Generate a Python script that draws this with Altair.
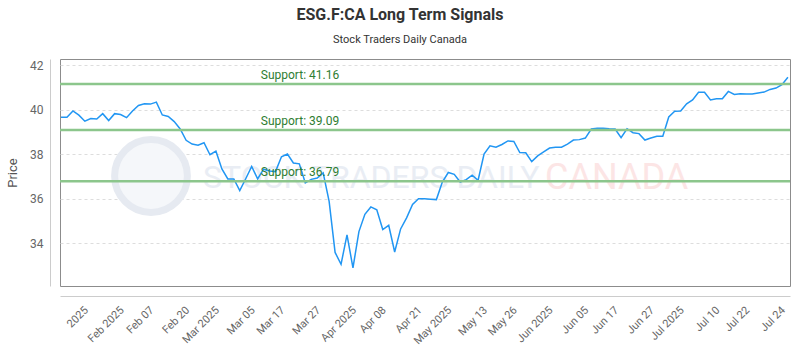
import json
import altair as alt
import pandas as pd

# ---- data ----
prices = [
    39.67, 39.67, 39.95, 39.76, 39.49, 39.61, 39.59, 39.83, 39.52, 39.83,
    39.79, 39.65, 39.95, 40.20, 40.27, 40.26, 40.35, 39.77, 39.70, 39.47,
    39.14, 38.63, 38.46, 38.41, 38.52, 37.98, 38.14, 37.34, 36.89, 36.89,
    36.37, 36.90, 37.45, 36.89, 37.33, 37.25, 37.22, 37.89, 38.01, 37.61,
    37.57, 36.71, 36.87, 36.93, 37.16, 35.88, 33.58, 33.05, 34.37, 32.89,
    34.52, 35.30, 35.63, 35.50, 34.61, 34.80, 33.60, 34.64, 35.14, 35.74,
    36.00, 36.00, 35.98, 35.96, 36.75, 37.18, 37.10, 36.75, 36.86, 37.06,
    36.83, 38.01, 38.38, 38.32, 38.44, 38.60, 38.58, 38.08, 38.07, 37.67,
    37.93, 38.11, 38.28, 38.32, 38.32, 38.46, 38.64, 38.66, 38.73, 39.14,
    39.17, 39.17, 39.15, 39.14, 38.75, 39.15, 38.97, 38.93, 38.64, 38.73,
    38.81, 38.81, 39.68, 39.94, 39.95, 40.27, 40.45, 40.79, 40.79, 40.45,
    40.50, 40.50, 40.83, 40.69, 40.73, 40.71, 40.71, 40.76, 40.80, 40.92,
    40.98, 41.13, 41.47,
]
tick_labels = [
    "2025", "Feb 2025", "Feb 07", "Feb 20", "Mar 2025", "Mar 05", "Mar 17",
    "Mar 27", "Apr 2025", "Apr 08", "Apr 21", "May 2025", "May 13", "May 26",
    "Jun 2025", "Jun 05", "Jun 17", "Jun 27", "Jul 2025", "Jul 10", "Jul 22",
    "Jul 24",
]
support_levels = [41.16, 39.09, 36.79]
title_text = "ESG.F:CA Long Term Signals"
subtitle_text = "Stock Traders Daily Canada"

# ---- layout ----
W, H = 730, 227
n = len(prices)
df = pd.DataFrame({"i": list(range(n)), "price": prices})
sup = pd.DataFrame({"level": support_levels,
                    "label": [f"Support: {v:.2f}" for v in support_levels]})

step = (n - 6) / (len(tick_labels) - 1)
tick_pos = [int(round(3 + k * step)) for k in range(len(tick_labels))]
label_expr = f"{json.dumps(tick_labels)}[indexof({json.dumps(tick_pos)}, datum.value)]"

FONT = "Roboto"

xscale = alt.Scale(domain=[-0.17, n - 0.65], nice=False, zero=False)
yscale = alt.Scale(domain=[32.07, 42.29], nice=False, zero=False)

x_enc = alt.X("i:Q", scale=xscale, axis=alt.Axis(
    values=tick_pos, labelExpr=label_expr, labelAngle=-45, grid=False,
    ticks=False, tickSize=0, domainColor="#cccccc", offset=10, title=None,
    labelColor="#666666", labelFontSize=11, labelFont=FONT, labelPadding=8,
    labelOffset=3, labelOverlap=False, labelBound=False, labelFlush=False))
y_enc = alt.Y("price:Q", scale=yscale, axis=alt.Axis(
    values=[34, 36, 38, 40, 42], grid=True, gridDash=[3, 3], gridColor="#dddddd",
    ticks=False, tickSize=0, domainColor="#cccccc", offset=10, title="Price",
    titleFont=FONT, titleFontSize=13, titleFontWeight="normal",
    titleColor="#555555", titlePadding=10, labelColor="#666666",
    labelFontSize=12, labelFont=FONT, labelPadding=7))

# watermark
wm_logo = alt.Chart(pd.DataFrame({"k": [0]})).mark_point(
    shape="circle", size=5300, filled=True, fill="#f5f7fa", stroke="#e6eaf1",
    strokeWidth=7, opacity=1).encode(x=alt.value(91), y=alt.value(117))
wm_text1 = alt.Chart(pd.DataFrame({"t": ["STOCK TRADERS DAILY"]})).mark_text(
    align="left", baseline="middle", fontSize=32, font=FONT,
    color="#e9edf4").encode(x=alt.value(143), y=alt.value(119), text="t:N")
wm_text2 = alt.Chart(pd.DataFrame({"t": ["CANADA"]})).mark_text(
    align="left", baseline="middle", fontSize=36, font=FONT,
    color="#fce5e5").encode(x=alt.value(485), y=alt.value(119), text="t:N")

base = alt.Chart(df)
price_line = base.mark_line(color="#2196f3", strokeWidth=1.5).encode(x=x_enc, y=y_enc)

sup_rules = alt.Chart(sup).mark_rule(color="#8cc68c", strokeWidth=2.5).encode(
    y=alt.Y("level:Q", scale=yscale))
sup_text = alt.Chart(sup).mark_text(
    align="center", baseline="middle", dy=-9, fontSize=12, font=FONT,
    color="#2e7d32").encode(x=alt.value(240), y=alt.Y("level:Q", scale=yscale),
                            text="label:N")

title_mark = alt.Chart(pd.DataFrame({"t": [title_text]})).mark_text(
    align="center", baseline="middle", fontSize=16, fontWeight="bold",
    font=FONT, color="#333333").encode(x=alt.value(340), y=alt.value(-44), text="t:N")
subtitle_mark = alt.Chart(pd.DataFrame({"t": [subtitle_text]})).mark_text(
    align="center", baseline="middle", fontSize=11, font=FONT,
    color="#333333").encode(x=alt.value(340), y=alt.value(-19), text="t:N")

chart = alt.layer(
    wm_logo, wm_text1, wm_text2, price_line, sup_rules, sup_text,
    title_mark, subtitle_mark,
).properties(
    width=W, height=H,
    autosize=alt.AutoSizeParams(type="none"),
    padding={"left": 60, "top": 59, "right": 10, "bottom": 64},
    background="#ffffff",
).configure_view(stroke="#8c8c8c", strokeWidth=1)

chart.save("out.html", embed_options={"renderer": "svg", "actions": False})
